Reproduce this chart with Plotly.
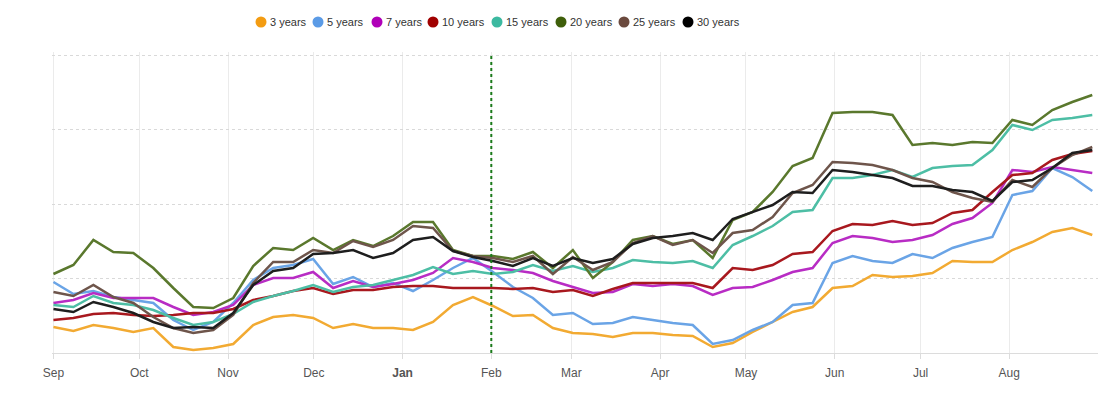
import pandas as pd
import plotly.graph_objects as go

# Weekly readings, Sep 2022 - Aug 2023 (arbitrary units, higher = higher yield)
dates = pd.date_range("2022-09-01", "2023-08-30", periods=53)

series_names = ["3 years", "5 years", "7 years", "10 years", "15 years", "20 years", "25 years", "30 years"]

y3 = [26, 22, 28, 25, 21, 25, 6, 3, 5, 9, 28, 36, 38, 35, 25, 29, 25, 25, 23, 31, 48, 56, 47, 37, 38, 25,
      20, 19, 16, 20, 20, 18, 17, 6, 10, 21, 31, 41, 46, 65, 67, 78, 76, 77, 80, 92, 91, 91, 103, 111, 121, 125, 118]
y5 = [71, 59, 62, 56, 53, 50, 33, 23, 31, 50, 73, 85, 88, 94, 69, 76, 66, 70, 62, 73, 85, 95, 81, 66, 55, 38,
      40, 29, 30, 36, 33, 30, 28, 9, 13, 23, 31, 48, 50, 90, 97, 92, 90, 99, 95, 105, 111, 116, 158, 162, 185, 176, 162]
y7 = [50, 53, 60, 55, 55, 55, 46, 38, 41, 48, 68, 75, 75, 81, 65, 72, 66, 69, 73, 80, 95, 91, 85, 83, 80, 72,
      66, 60, 61, 69, 67, 69, 67, 58, 65, 66, 73, 81, 85, 110, 117, 115, 111, 113, 118, 129, 135, 150, 183, 181, 186, 183, 180]
y10 = [33, 35, 39, 40, 38, 37, 38, 40, 40, 44, 53, 57, 62, 65, 59, 63, 63, 66, 67, 67, 65, 65, 65, 64, 65, 61,
       63, 57, 64, 70, 70, 70, 70, 65, 85, 83, 88, 99, 101, 122, 129, 128, 132, 128, 130, 140, 143, 161, 178, 180, 193, 199, 202]
y15 = [48, 46, 57, 50, 48, 43, 35, 28, 31, 39, 51, 57, 62, 68, 61, 66, 68, 73, 78, 86, 79, 82, 79, 81, 88, 82,
       87, 81, 85, 93, 91, 90, 92, 85, 108, 117, 127, 141, 143, 175, 175, 178, 183, 176, 185, 187, 188, 203, 228, 223, 233, 235, 238]
y20 = [79, 88, 113, 101, 100, 85, 65, 46, 45, 55, 87, 105, 103, 115, 103, 113, 107, 117, 131, 131, 103, 97, 97, 94, 101, 85,
       103, 75, 91, 113, 117, 109, 113, 95, 133, 141, 161, 187, 195, 240, 241, 241, 238, 208, 210, 208, 211, 210, 233, 228, 243, 251, 258]
y25 = [61, 57, 68, 56, 50, 36, 25, 20, 23, 38, 70, 91, 91, 103, 100, 112, 106, 113, 127, 125, 102, 97, 95, 91, 97, 79,
       96, 83, 91, 110, 117, 108, 113, 100, 120, 123, 136, 160, 168, 191, 190, 188, 183, 175, 171, 161, 155, 151, 173, 166, 185, 198, 206]
y30 = [44, 41, 51, 46, 40, 31, 25, 26, 25, 40, 68, 82, 85, 99, 100, 103, 95, 100, 113, 116, 102, 96, 92, 87, 95, 87,
       95, 90, 94, 109, 115, 117, 120, 113, 134, 141, 148, 161, 160, 183, 181, 178, 175, 167, 167, 163, 161, 152, 171, 173, 185, 200, 203]

values = [y3, y5, y7, y10, y15, y20, y25, y30]

line_colors = ["#f2aa32", "#6aa4e6", "#b82cc4", "#a8181e", "#4dbea5", "#5a782d", "#6e554b", "#1e1e1e"]
legend_colors = ["#f39c12", "#5b9be6", "#b000b8", "#a00000", "#3cb9a0", "#3f5f0a", "#6b4a3e", "#000000"]

tick_dates = pd.date_range("2022-09-01", "2023-08-01", freq="MS")
tick_labels = ["Sep", "Oct", "Nov", "Dec", "<b>Jan</b>", "Feb", "Mar", "Apr", "May", "Jun", "Jul", "Aug"]
marker_date = "2023-02-01"
x_range = ["2022-08-31 12:00", "2023-09-01"]
y_grid = [0, 74.5, 149, 223.5, 298]
y_max = 301

# ---- layout constants (page body has an 8px default margin) ----
OFF = 8
W, H = 1117 - OFF, 394 - OFF
TOP_PX, BOTTOM_PX, LEFT_PX, RIGHT_PX = 52, 353, 52, 1098   # screen px of plot-area edges
ML, MT = LEFT_PX - OFF, TOP_PX - OFF
MR = W - (RIGHT_PX - OFF)
MB = H - (BOTTOM_PX - OFF)
PW, PH = W - ML - MR, H - MT - MB
legend_px = [261, 318, 377, 433, 497, 561, 624, 688]   # legend circle centres (screen px)
legend_y_px = 22

fig = go.Figure()
for name, vals, c in zip(series_names, values, line_colors):
    fig.add_trace(go.Scatter(x=dates, y=vals, mode="lines", name=name, showlegend=False,
                             line=dict(color=c, width=2.5), hoverinfo="x+y+name"))

fig.add_shape(type="line", xref="x", yref="y", x0=marker_date, x1=marker_date, y0=0, y1=y_grid[-1],
              line=dict(color="#1a7a1a", width=2, dash="dot"))

# compact legend (circle + label)
ly = (BOTTOM_PX - legend_y_px) / PH
for name, c, px in zip(series_names, legend_colors, legend_px):
    lx = (px - LEFT_PX) / PW
    fig.add_shape(type="circle", xref="paper", yref="paper", xsizemode="pixel", ysizemode="pixel",
                  xanchor=lx, yanchor=ly, x0=-5.5, x1=5.5, y0=-5.5, y1=5.5,
                  fillcolor=c, line=dict(width=0))
    fig.add_annotation(xref="paper", yref="paper", x=lx, y=ly, xshift=7, xanchor="left", yanchor="middle",
                       text=name, showarrow=False, font=dict(size=11, color="#333"))

fig.update_layout(
    width=W, height=H, showlegend=False,
    margin=dict(l=ML, r=MR, t=MT, b=MB, autoexpand=False),
    paper_bgcolor="white", plot_bgcolor="white",
    font=dict(family="Liberation Sans, Arial, sans-serif", size=12, color="#555"),
    xaxis=dict(type="date", range=x_range, tickvals=tick_dates, ticktext=tick_labels,
               showgrid=True, gridcolor="#ebebeb", gridwidth=1,
               showline=True, linecolor="#dcdcdc", linewidth=1,
               ticks="outside", ticklen=5, tickcolor="#dcdcdc", ticklabelstandoff=4,
               tickfont=dict(size=12, color="#555"), zeroline=False),
    yaxis=dict(range=[0, y_max], tickvals=y_grid, showticklabels=False,
               showgrid=True, gridcolor="#d9d9d9", griddash="dot", gridwidth=1, zeroline=False),
)

fig.write_html("out.html")
